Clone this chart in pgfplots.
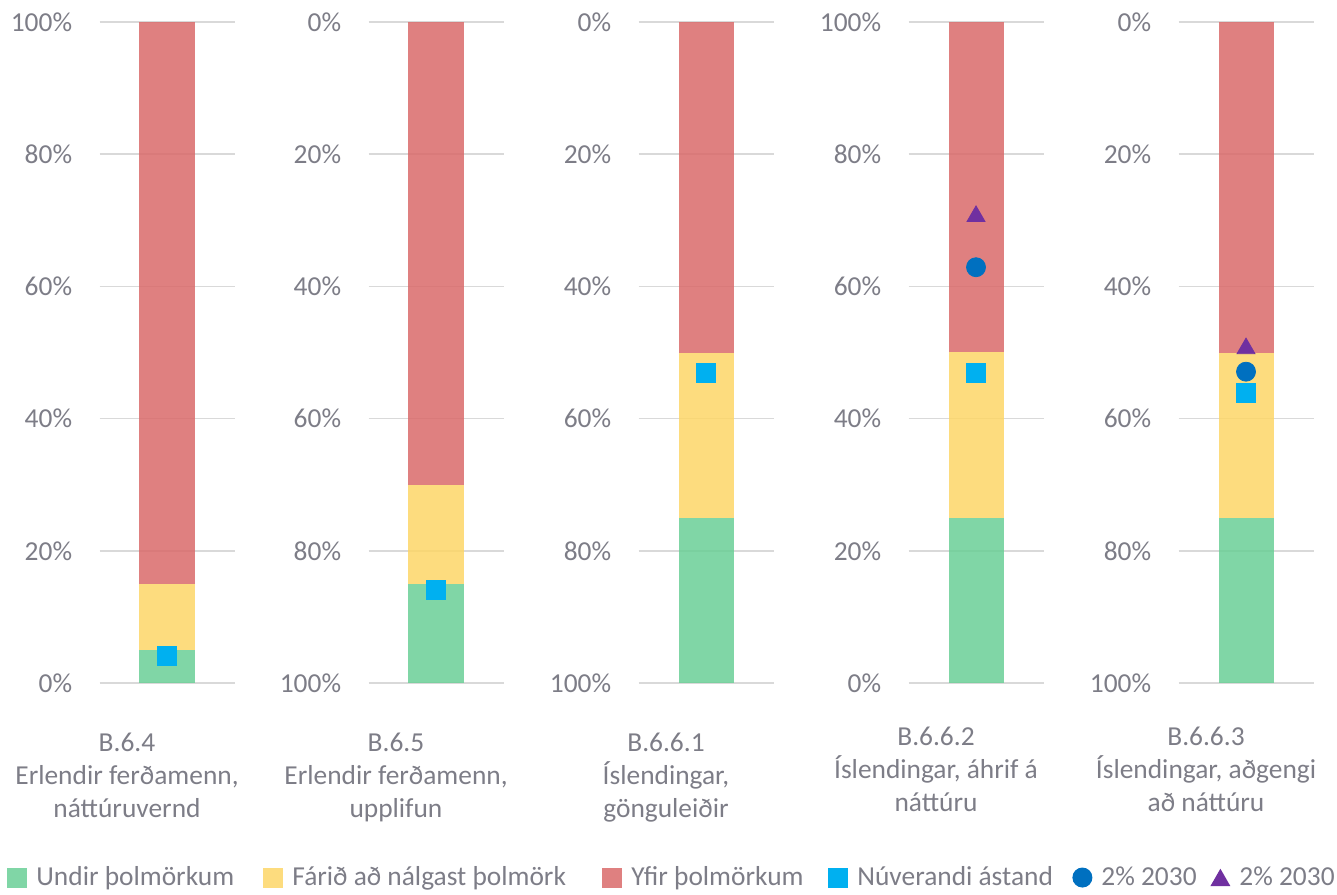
\documentclass[border=0pt]{standalone}
\usepackage{fontspec}
\setmainfont{Carlito}
\usepackage{pgfplots}
\pgfplotsset{compat=1.18}

\definecolor{cgreen}{RGB}{106,207,150}
\definecolor{cyellow}{RGB}{253,214,103}
\definecolor{cred}{RGB}{217,106,106}
\definecolor{cnow}{RGB}{0,176,240}
\definecolor{ccirc}{RGB}{0,112,192}
\definecolor{ctri}{RGB}{112,48,160}
\definecolor{txt}{RGB}{125,125,135}

\newcommand{\lblfont}{\fontsize{13.7pt}{16.3pt}\selectfont}

\pgfplotsset{
  /pgf/number format/assume math mode=true,
  panel/.style={
    scale only axis, width=67.5pt, height=330.5pt,
    xmin=-1, xmax=1, ymin=0, ymax=100, enlargelimits=false,
    anchor=center, axis line style={draw=none},
    major tick length=0pt, clip=false,
  },
  bars/.style={
    panel, ybar stacked, bar width=0.815,
    ytick={0,20,...,100}, ymajorgrids,
    grid style={draw=black, draw opacity=0.15, line width=0.75pt},
    yticklabel={\pgfmathprintnumber{\tick}\%},
    yticklabel style={anchor=east, inner sep=0pt, xshift=-13.5pt, text=txt, font=\lblfont},
    xtick={0},
    xticklabel style={align=center, anchor=north, inner sep=0pt, xshift=-20pt, yshift=-25pt, text=txt, font=\lblfont},
    every axis plot/.append style={draw=none, fill opacity=0.85},
  },
  marks/.style={panel, xtick=\empty, ytick=\empty},
  now/.style={only marks, mark=square*, mark size=4.75pt, color=cnow},
  circ/.style={only marks, mark=*, mark size=4.75pt, color=ccirc},
  tri/.style={only marks, mark=triangle*, mark size=5.2pt, color=ctri},
}

\begin{document}
\begin{tikzpicture}[font=\lblfont]
\path[use as bounding box] (0,0) rectangle (668.5pt,447pt);

% --- B.6.4 (0% neðst)
\begin{axis}[bars, at={(83.5pt,270.75pt)},
  xticklabel={B.6.4\\Erlendir ferðamenn,\\náttúruvernd},
  legend columns=6,
  legend style={at={(-0.6852,-0.2943)}, anchor=west, draw=none, fill=none,
    inner sep=0pt, font=\lblfont, text=txt, nodes={inner sep=0pt, text opacity=1},
    /tikz/every odd column/.append style={column sep=4.5pt},
    /tikz/every even column/.append style={column sep=0pt}},
]
\addplot[fill=cgreen, forget plot] coordinates {(0,5)};
\addplot[fill=cyellow, forget plot] coordinates {(0,10)};
\addplot[fill=cred, forget plot] coordinates {(0,85)};
\addlegendimage{legend image code/.code={\fill[cgreen, fill opacity=0.85] (0pt,-5pt) rectangle (10pt,5pt);}}
\addlegendentry{\makebox[113.5pt][l]{Undir þolmörkum}}
\addlegendimage{legend image code/.code={\fill[cyellow, fill opacity=0.85] (0pt,-5pt) rectangle (10pt,5pt);}}
\addlegendentry{\makebox[155pt][l]{Fárið að nálgast þolmörk}}
\addlegendimage{legend image code/.code={\fill[cred, fill opacity=0.85] (0pt,-5pt) rectangle (10pt,5pt);}}
\addlegendentry{\makebox[98.5pt][l]{Yfir þolmörkum}}
\addlegendimage{legend image code/.code={\fill[cnow, fill opacity=1] (0pt,-5pt) rectangle (10pt,5pt);}}
\addlegendentry{\makebox[107.5pt][l]{Núverandi ástand}}
\addlegendimage{legend image code/.code={\fill[ccirc, fill opacity=1] (5pt,0pt) circle (5pt);}}
\addlegendentry{\makebox[54.5pt][l]{2\% 2030}}
\addlegendimage{legend image code/.code={\fill[ctri, fill opacity=1] (0pt,-4.3pt) -- (10pt,-4.3pt) -- (5pt,4.4pt) -- cycle;}}
\addlegendentry{2\% 2030}
\end{axis}
\begin{axis}[marks, at={(83.5pt,270.75pt)}]
\addplot[now] coordinates {(0,4.1)};
\end{axis}

% --- B.6.5 (snúinn ás)
\begin{axis}[bars, at={(218pt,270.75pt)}, y dir=reverse,
  xticklabel={B.6.5\\Erlendir ferðamenn,\\upplifun}]
\addplot[fill=cred] coordinates {(0,70)};
\addplot[fill=cyellow] coordinates {(0,15)};
\addplot[fill=cgreen] coordinates {(0,15)};
\end{axis}
\begin{axis}[marks, at={(218pt,270.75pt)}, y dir=reverse]
\addplot[now] coordinates {(0,85.9)};
\end{axis}

% --- B.6.6.1 (snúinn ás)
\begin{axis}[bars, at={(353pt,270.75pt)}, y dir=reverse,
  xticklabel={B.6.6.1\\Íslendingar,\\gönguleiðir}]
\addplot[fill=cred] coordinates {(0,50)};
\addplot[fill=cyellow] coordinates {(0,25)};
\addplot[fill=cgreen] coordinates {(0,25)};
\end{axis}
\begin{axis}[marks, at={(353pt,270.75pt)}, y dir=reverse]
\addplot[now] coordinates {(0,53.1)};
\end{axis}

% --- B.6.6.2 (0% neðst)
\begin{axis}[bars, at={(488pt,270.75pt)},
  xticklabel style={yshift=3pt},
  xticklabel={B.6.6.2\\Íslendingar, áhrif á\\náttúru}]
\addplot[fill=cgreen] coordinates {(0,25)};
\addplot[fill=cyellow] coordinates {(0,25)};
\addplot[fill=cred] coordinates {(0,50)};
\end{axis}
\begin{axis}[marks, at={(488pt,270.75pt)}]
\addplot[now] coordinates {(0,46.9)};
\addplot[circ] coordinates {(0,62.9)};
\addplot[tri] coordinates {(0,70.6)};
\end{axis}

% --- B.6.6.3 (snúinn ás)
\begin{axis}[bars, at={(623pt,270.75pt)}, y dir=reverse,
  xticklabel style={yshift=3pt},
  xticklabel={B.6.6.3\\Íslendingar, aðgengi\\að náttúru}]
\addplot[fill=cred] coordinates {(0,50)};
\addplot[fill=cyellow] coordinates {(0,25)};
\addplot[fill=cgreen] coordinates {(0,25)};
\end{axis}
\begin{axis}[marks, at={(623pt,270.75pt)}, y dir=reverse]
\addplot[now] coordinates {(0,56.1)};
\addplot[circ] coordinates {(0,52.9)};
\addplot[tri] coordinates {(0,49.4)};
\end{axis}
\end{tikzpicture}
\end{document}
